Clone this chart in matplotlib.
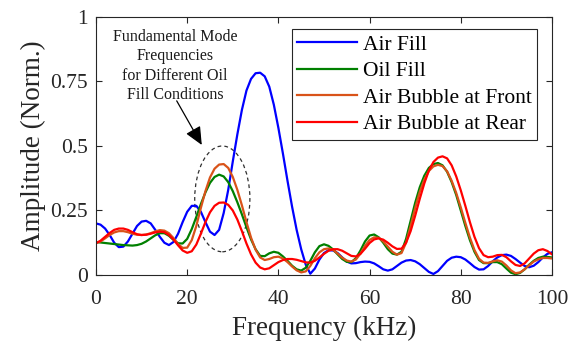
import numpy as np
import matplotlib
matplotlib.use("Agg")
import matplotlib.pyplot as plt
from matplotlib.patches import Ellipse

plt.rcParams['font.family'] = ['Liberation Serif', 'DejaVu Serif']
plt.rcParams['mathtext.fontset'] = 'stix'

freq_khz = list(range(0, 101))

air_fill = [
    0.200, 0.195, 0.180, 0.155, 0.125, 0.108, 0.110, 0.130, 0.160, 0.190,
    0.207, 0.210, 0.200, 0.175, 0.148, 0.125, 0.116, 0.128, 0.160, 0.205,
    0.245, 0.268, 0.268, 0.245, 0.205, 0.168, 0.155, 0.175, 0.240, 0.330,
    0.440, 0.545, 0.640, 0.715, 0.760, 0.782, 0.784, 0.770, 0.730, 0.660,
    0.570, 0.470, 0.365, 0.265, 0.175, 0.100, 0.040, 0.005, 0.025, 0.060,
    0.085, 0.096, 0.095, 0.085, 0.068, 0.052, 0.045, 0.046, 0.050, 0.052,
    0.051, 0.045, 0.034, 0.022, 0.017, 0.022, 0.035, 0.048, 0.056, 0.058,
    0.053, 0.042, 0.027, 0.012, 0.004, 0.015, 0.035, 0.055, 0.067, 0.071,
    0.069, 0.060, 0.046, 0.031, 0.021, 0.022, 0.035, 0.053, 0.068, 0.077,
    0.079, 0.074, 0.062, 0.048, 0.035, 0.030, 0.036, 0.050, 0.068, 0.082,
    0.088,
]

oil_fill = [
    0.127, 0.126, 0.124, 0.122, 0.120, 0.118, 0.116, 0.115, 0.114, 0.116,
    0.121, 0.130, 0.142, 0.154, 0.162, 0.162, 0.152, 0.136, 0.123, 0.122,
    0.140, 0.178, 0.225, 0.275, 0.320, 0.357, 0.380, 0.389, 0.382, 0.360,
    0.325, 0.282, 0.235, 0.185, 0.138, 0.100, 0.074, 0.073, 0.084, 0.090,
    0.086, 0.072, 0.055, 0.036, 0.022, 0.017, 0.028, 0.055, 0.088, 0.112,
    0.119, 0.113, 0.099, 0.080, 0.062, 0.051, 0.050, 0.065, 0.095, 0.130,
    0.153, 0.157, 0.146, 0.125, 0.100, 0.083, 0.079, 0.090, 0.140, 0.210,
    0.280, 0.340, 0.385, 0.415, 0.430, 0.434, 0.425, 0.400, 0.360, 0.310,
    0.250, 0.190, 0.135, 0.090, 0.058, 0.046, 0.046, 0.050, 0.050, 0.042,
    0.025, 0.009, 0.003, 0.008, 0.022, 0.040, 0.055, 0.066, 0.071, 0.070,
    0.068,
]

bubble_front = [
    0.125, 0.130, 0.142, 0.155, 0.165, 0.170, 0.170, 0.166, 0.160, 0.156,
    0.155, 0.157, 0.162, 0.169, 0.174, 0.172, 0.162, 0.143, 0.120, 0.105,
    0.106, 0.135, 0.190, 0.260, 0.325, 0.378, 0.412, 0.428, 0.430, 0.415,
    0.380, 0.330, 0.270, 0.205, 0.145, 0.098, 0.068, 0.058, 0.062, 0.069,
    0.071, 0.064, 0.050, 0.033, 0.018, 0.010, 0.014, 0.035, 0.065, 0.088,
    0.100, 0.103, 0.097, 0.083, 0.067, 0.056, 0.052, 0.060, 0.083, 0.113,
    0.136, 0.146, 0.144, 0.130, 0.110, 0.090, 0.079, 0.085, 0.125, 0.190,
    0.260, 0.322, 0.370, 0.403, 0.421, 0.427, 0.422, 0.402, 0.365, 0.318,
    0.262, 0.202, 0.145, 0.097, 0.063, 0.048, 0.047, 0.053, 0.057, 0.052,
    0.037, 0.018, 0.007, 0.010, 0.022, 0.038, 0.052, 0.061, 0.066, 0.066,
    0.064,
]

bubble_rear = [
    0.123, 0.133, 0.148, 0.163, 0.175, 0.180, 0.180, 0.175, 0.166, 0.158,
    0.155, 0.156, 0.160, 0.165, 0.168, 0.166, 0.155, 0.137, 0.115, 0.095,
    0.086, 0.092, 0.118, 0.160, 0.205, 0.243, 0.268, 0.280, 0.281, 0.272,
    0.250, 0.215, 0.170, 0.122, 0.080, 0.048, 0.029, 0.022, 0.026, 0.038,
    0.050, 0.058, 0.062, 0.062, 0.059, 0.054, 0.049, 0.048, 0.055, 0.068,
    0.082, 0.094, 0.100, 0.100, 0.094, 0.084, 0.074, 0.072, 0.082, 0.102,
    0.124, 0.138, 0.142, 0.137, 0.125, 0.111, 0.101, 0.102, 0.125, 0.170,
    0.230, 0.295, 0.355, 0.405, 0.438, 0.455, 0.460, 0.452, 0.425, 0.382,
    0.328, 0.268, 0.205, 0.148, 0.104, 0.077, 0.069, 0.071, 0.077, 0.078,
    0.069, 0.053, 0.039, 0.035, 0.045, 0.064, 0.083, 0.096, 0.100, 0.093,
    0.080,
]

series_labels = ["Air Fill", "Oil Fill", "Air Bubble at Front", "Air Bubble at Rear"]
series_colors = ["#0000ff", "#008000", "#d95319", "#ff0000"]

x_ticks = [0, 20, 40, 60, 80, 100]
y_ticks = [0, 0.25, 0.5, 0.75, 1]
y_tick_labels = ["0", "0.25", "0.5", "0.75", "1"]

fig = plt.figure(figsize=(5.8, 3.46), dpi=100)
ax = fig.add_axes([0.1655, 0.2052, 0.9517 - 0.1655, 0.9509 - 0.2052])

for vals, lab, col in zip([air_fill, oil_fill, bubble_front, bubble_rear],
                          series_labels, series_colors):
    ax.plot(freq_khz, vals, color=col, lw=1.6, label=lab)

ax.set_xlim(0, 100)
ax.set_ylim(0, 1)
ax.set_xticks(x_ticks)
ax.set_yticks(y_ticks)
ax.set_yticklabels(y_tick_labels)
ax.tick_params(direction='in', top=True, right=True, length=4,
               labelsize=15.5, colors='#262626', width=0.8)
ax.tick_params(axis='x', pad=11)
ax.tick_params(axis='y', pad=6)
for s in ax.spines.values():
    s.set_color('#262626')
    s.set_linewidth(0.8)

ax.set_xlabel("Frequency (kHz)", fontsize=19.5, color='#262626', labelpad=5)
ax.set_ylabel("Amplitude (Norm.)", fontsize=19.5, color='#262626', labelpad=3)

leg = ax.legend(loc='upper right', bbox_to_anchor=(0.967, 0.953), fontsize=15.5,
                handlelength=2.8, handletextpad=0.25, borderpad=0.25,
                labelspacing=0.3, fancybox=False, framealpha=1,
                edgecolor='#262626', borderaxespad=0)
leg.get_frame().set_linewidth(0.8)

# dashed ring around the fundamental peaks
ring = Ellipse((27.7, 0.295), width=12.1, height=0.41, fill=False,
               ls=(0, (3, 2.5)), lw=0.9, edgecolor='#303030')
ax.add_patch(ring)

ax.text(17.3, 0.81, "Fundamental Mode\nFrequencies\nfor Different Oil\nFill Conditions",
        ha='center', va='center', fontsize=11.5, linespacing=1.3, color='#1a1a1a')
ax.annotate("", xy=(23.2, 0.504), xytext=(17.7, 0.675),
            arrowprops=dict(arrowstyle='-|>,head_length=0.55,head_width=0.25',
                            mutation_scale=20, color='black', lw=0.9,
                            shrinkA=0, shrinkB=0))

fig.savefig("out.png", dpi=100)
